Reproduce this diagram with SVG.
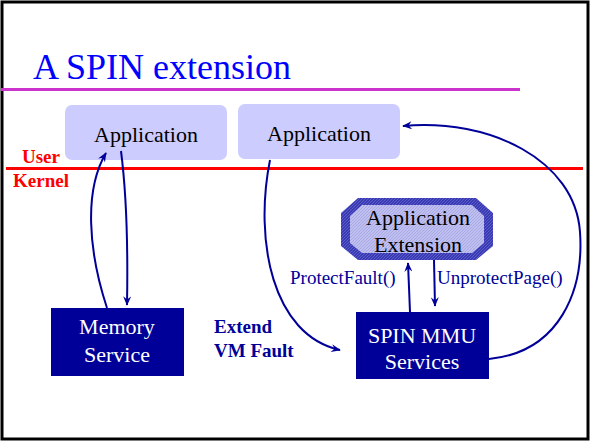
<svg xmlns="http://www.w3.org/2000/svg" width="592" height="442" viewBox="0 0 592 442">
<defs>
<marker id="ah" viewBox="0 0 12 10" refX="11" refY="5" markerWidth="10" markerHeight="8" markerUnits="userSpaceOnUse" orient="auto">
<path d="M0,0 L12,5 L0,10 L4,5 z" fill="#000099"/>
</marker>
<pattern id="hatchO" width="3" height="3" patternUnits="userSpaceOnUse">
<rect width="3" height="3" fill="#3A3AB4"/>
<path d="M0,3 L3,0" stroke="#5C5CC8" stroke-width="1"/>
</pattern>
<pattern id="hatchI" width="3" height="3" patternUnits="userSpaceOnUse">
<rect width="3" height="3" fill="#BFBFF0"/>
<path d="M0,3 L3,0" stroke="#A8A8E4" stroke-width="1"/>
</pattern>
</defs>
<rect width="592" height="442" fill="#FFFFFF"/>
<rect x="2" y="2" width="586" height="437" fill="none" stroke="#000000" stroke-width="3"/>
<text font-family="Liberation Serif" x="33" y="79" font-size="36" fill="#0000FF">A SPIN extension</text>
<line x1="1" y1="89.5" x2="520" y2="89.5" stroke="#CC33CC" stroke-width="3"/>
<line x1="6" y1="168.5" x2="583" y2="168.5" stroke="#FF0000" stroke-width="3"/>
<g font-family="Liberation Serif" font-weight="bold" font-size="19" fill="#FF0000">
<text x="22" y="163">User</text>
<text x="13" y="187">Kernel</text>
</g>
<g id="app1">
<rect fill="#CCCCFF" x="65" y="105" width="162" height="55" rx="7"/>
<text font-family="Liberation Serif" font-size="22" fill="#000000" x="146" y="142" text-anchor="middle">Application</text>
</g>
<g id="app2">
<rect fill="#CCCCFF" x="238" y="104" width="162" height="55" rx="7"/>
<text font-family="Liberation Serif" font-size="22" fill="#000000" x="319" y="141" text-anchor="middle">Application</text>
</g>
<g id="appext">
<polygon points="358,198 476,198 493,213 493,246 476,260 358,260 341,246 341,213" fill="url(#hatchO)"/>
<polygon points="362,205 472,205 484,216 484,243 472,253 362,253 350,243 350,216" fill="url(#hatchI)"/>
<text font-family="Liberation Serif" font-size="22" fill="#000000" x="418" y="225" text-anchor="middle">Application</text>
<text font-family="Liberation Serif" font-size="22" fill="#000000" x="418" y="252" text-anchor="middle">Extension</text>
</g>
<g id="memsvc">
<rect fill="#000099" x="51" y="308" width="133" height="68"/>
<text font-family="Liberation Serif" font-size="22" fill="#FFFFFF" x="117" y="334" text-anchor="middle">Memory</text>
<text font-family="Liberation Serif" font-size="22" fill="#FFFFFF" x="117" y="362" text-anchor="middle">Service</text>
</g>
<g id="mmu">
<rect fill="#000099" x="356" y="312" width="133" height="67"/>
<text font-family="Liberation Serif" font-size="22" fill="#FFFFFF" x="422" y="343" text-anchor="middle">SPIN MMU</text>
<text font-family="Liberation Serif" font-size="22" fill="#FFFFFF" x="422" y="369" text-anchor="middle">Services</text>
</g>
<g id="labels" font-family="Liberation Serif" font-size="19" fill="#000099">
<text x="214" y="333" font-weight="bold">Extend</text>
<text x="214" y="357" font-weight="bold">VM Fault</text>
<text x="290" y="284">ProtectFault()</text>
<text x="437" y="284">UnprotectPage()</text>
</g>
<g id="connectors" fill="none" stroke="#000099" stroke-width="2">
<path d="M107,308 C88,250 84,190 106,153" marker-end="url(#ah)"/>
<path d="M121,151 C126,190 128,250 127,305" marker-end="url(#ah)"/>
<path d="M270,160 C254,240 272,335 340,350" marker-end="url(#ah)"/>
<path d="M489,359 C560,352 584,290 580,232 C575,160 490,118 403,126" marker-end="url(#ah)"/>
<path d="M410,312 L408,263" marker-end="url(#ah)"/>
<path d="M434,260 L435,306" marker-end="url(#ah)"/>
</g>
</svg>
